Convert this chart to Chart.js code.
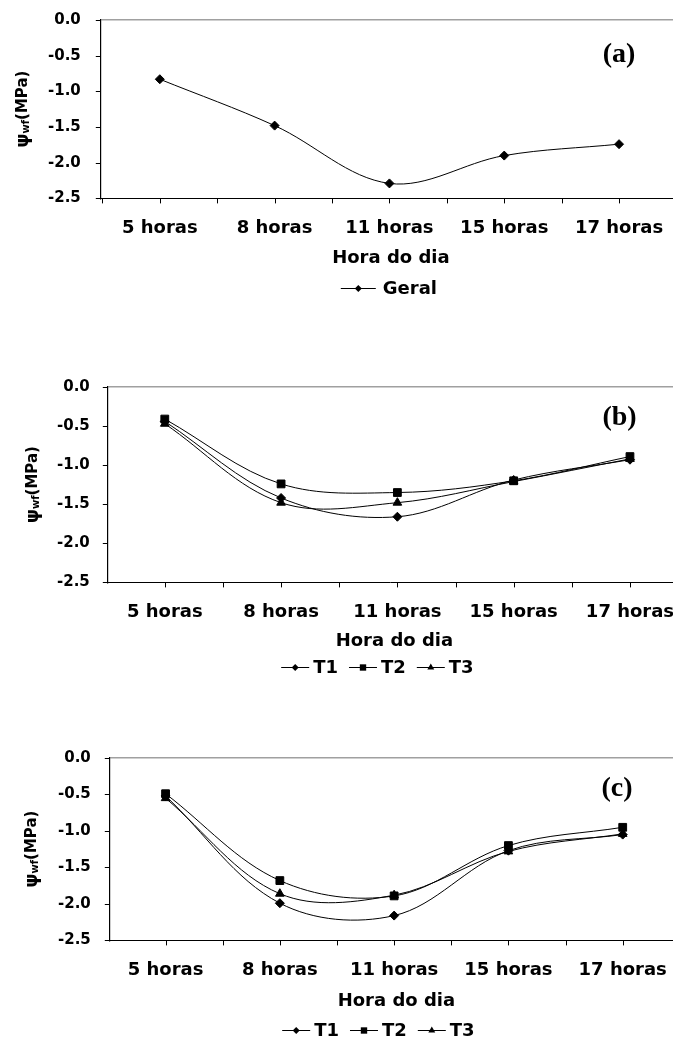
<!DOCTYPE html>
<html>
<head>
<meta charset="utf-8">
<script src="https://cdn.jsdelivr.net/npm/chart.js@4.4.0/dist/chart.umd.min.js"></script>
<style>
  html, body { margin: 0; padding: 0; background: #fff; overflow: hidden; }
  .panel { position: absolute; left: 0; width: 673px; }
</style>
</head>
<body>
<div class="panel" style="top:0px"><canvas id="chartA" width="673" height="309"></canvas></div>
<div class="panel" style="top:367px"><canvas id="chartB" width="673" height="316"></canvas></div>
<div class="panel" style="top:738px"><canvas id="chartC" width="673" height="303"></canvas></div>
<script>
// categories and ticks
const hours = ["5 horas", "8 horas", "11 horas", "15 horas", "17 horas"];
const xTickPos = [-0.5, 0, 0.5, 1, 1.5, 2, 2.5, 3, 3.5, 4];
const yTicks = [0, -0.5, -1, -1.5, -2, -2.5];

// (a) overall
const geral = [-0.83, -1.48, -2.29, -1.90, -1.74];

// (b)
const t1B = [-0.44, -1.42, -1.66, -1.19, -0.93];
const t2B = [-0.41, -1.24, -1.35, -1.20, -0.89];
const t3B = [-0.47, -1.48, -1.48, -1.21, -0.92];

// (c)
const t1C = [-0.52, -1.99, -2.16, -1.27, -1.05];
const t2C = [-0.49, -1.68, -1.89, -1.20, -0.95];
const t3C = [-0.55, -1.86, -1.88, -1.28, -1.04];

const sansBold = (size) => ({ family: '"DejaVu Sans"', size: size, weight: "bold" });
const TICK = 5; // visible tick mark length

function drawMarker(ctx, style, x, y, r) {
  ctx.beginPath();
  if (style === "rect") {
    const s = r * Math.SQRT1_2;
    ctx.rect(x - s, y - s, 2 * s, 2 * s);
  } else if (style === "triangle") {
    ctx.moveTo(x, y - r);
    ctx.lineTo(x + r * 0.866, y + r * 0.5);
    ctx.lineTo(x - r * 0.866, y + r * 0.5);
    ctx.closePath();
  } else {
    ctx.moveTo(x - r, y);
    ctx.lineTo(x, y - r);
    ctx.lineTo(x + r, y);
    ctx.lineTo(x, y + r);
    ctx.closePath();
  }
  ctx.fill();
}

// short tick marks, axis titles, panel tag and legend
const panelExtras = {
  id: "panelExtras",
  afterDraw(chart, args, opts) {
    const ctx = chart.ctx;
    const a = chart.chartArea;
    const cx = (a.left + a.right) / 2;
    const xs = chart.scales.x;
    const ys = chart.scales.y;

    // tick marks (the scales keep longer invisible ones as label spacing)
    ctx.save();
    ctx.strokeStyle = "#000";
    ctx.lineWidth = 1;
    ctx.beginPath();
    xs.ticks.forEach((t) => {
      if (t.value > 4.2) return;
      const px = Math.round(xs.getPixelForValue(t.value)) + 0.5;
      ctx.moveTo(px, a.bottom);
      ctx.lineTo(px, a.bottom + TICK);
    });
    ys.ticks.forEach((t) => {
      const py = Math.round(ys.getPixelForValue(t.value)) + 0.5;
      ctx.moveTo(a.left - TICK, py);
      ctx.lineTo(a.left, py);
    });
    ctx.stroke();
    ctx.restore();

    // y axis title (psi with subscript)
    const parts = [
      { t: "\u03C8", f: 'bold 18px "DejaVu Sans"', dy: 0 },
      { t: "wf", f: 'bold 10px "DejaVu Sans"', dy: 3 },
      { t: "(MPa)", f: 'bold 15px "DejaVu Sans"', dy: 0 }
    ];
    ctx.save();
    ctx.translate(opts.yTitleX, (a.top + a.bottom) / 2);
    ctx.rotate(-Math.PI / 2);
    ctx.textBaseline = "middle";
    ctx.fillStyle = "#000";
    let total = 0;
    parts.forEach((p) => { ctx.font = p.f; p.w = ctx.measureText(p.t).width; total += p.w; });
    let px = -total / 2;
    parts.forEach((p) => { ctx.font = p.f; ctx.fillText(p.t, px, p.dy); px += p.w; });
    ctx.restore();

    // x axis title
    ctx.save();
    ctx.font = 'bold 18px "DejaVu Sans"';
    ctx.textAlign = "center";
    ctx.textBaseline = "middle";
    ctx.fillStyle = "#000";
    ctx.fillText("Hora do dia", cx + opts.titleDx, a.bottom + opts.titleDy);
    ctx.restore();

    // panel tag
    ctx.save();
    ctx.font = 'bold 28px "Liberation Serif"';
    ctx.textAlign = "center";
    ctx.textBaseline = "middle";
    ctx.fillStyle = "#000";
    ctx.fillText(opts.tag, xs.getPixelForValue(opts.tagX), ys.getPixelForValue(opts.tagY));
    ctx.restore();

    // legend: line with marker, then label
    ctx.save();
    ctx.font = 'bold 18px "DejaVu Sans"';
    ctx.textBaseline = "middle";
    ctx.fillStyle = "#000";
    ctx.strokeStyle = "#000";
    ctx.lineWidth = 1;
    const items = chart.data.datasets.map((ds) => ({
      text: ds.label, style: ds.pointStyle, w: ctx.measureText(ds.label).width
    }));
    let width = 0;
    items.forEach((it, i) => { width += opts.lineW + opts.textGap + it.w + (i > 0 ? opts.itemGap : 0); });
    let x = cx + opts.legendDx - width / 2;
    const y = Math.round(a.bottom + opts.legendDy) + 0.5;
    items.forEach((it) => {
      ctx.beginPath();
      ctx.moveTo(x, y);
      ctx.lineTo(x + opts.lineW, y);
      ctx.stroke();
      drawMarker(ctx, it.style, x + opts.lineW / 2, y, it.style === "rect" ? 4.5 : (it.style === "triangle" ? 4 : 3.5));
      ctx.fillText(it.text, x + opts.lineW + opts.textGap, y + 1);
      x += opts.lineW + opts.textGap + it.w + opts.itemGap;
    });
    ctx.restore();
  }
};

function makeChart(id, series, cfg) {
  // last tick sits on the right edge with no label, so no extra right padding is reserved
  const ticksX = xTickPos.filter((v) => v >= cfg.xMin && v <= cfg.xMax).concat([cfg.xMax]);
  return new Chart(document.getElementById(id), {
    type: "line",
    data: {
      datasets: series.map((s) => ({
        label: s.label,
        data: s.values.map((v, i) => ({ x: i, y: v })),
        borderColor: "#000",
        backgroundColor: "#000",
        borderWidth: 1,
        pointStyle: s.style,
        pointRadius: s.radius,
        pointBorderWidth: 1,
        pointBackgroundColor: "#000",
        tension: 0.35
      }))
    },
    options: {
      responsive: false,
      animation: false,
      events: [],
      layout: { autoPadding: false, padding: { top: 20, left: cfg.padLeft, right: 0, bottom: cfg.padBottom } },
      plugins: {
        legend: { display: false },
        tooltip: { enabled: false },
        panelExtras: cfg
      },
      scales: {
        x: {
          type: "linear",
          min: cfg.xMin,
          max: cfg.xMax,
          afterBuildTicks: (sc) => {
            sc.ticks = ticksX.map((v) => ({ value: v }));
          },
          ticks: {
            autoSkip: false,
            maxRotation: 0,
            padding: 0,
            color: "#000",
            font: sansBold(18),
            callback: (v) => (Number.isInteger(v) ? hours[v] : "")
          },
          grid: { drawOnChartArea: false, tickLength: 19, color: "rgba(0,0,0,0)", tickColor: "rgba(0,0,0,0)" },
          border: { color: "#000", width: 1 }
        },
        y: {
          min: -2.5,
          max: 0,
          afterBuildTicks: (sc) => {
            sc.ticks = yTicks.map((v) => ({ value: v }));
          },
          ticks: {
            padding: 0,
            color: "#000",
            font: sansBold(15),
            callback: (v) => v.toFixed(1)
          },
          grid: {
            color: (c) => (c.tick && c.tick.value === 0 ? "#a0a0a0" : "rgba(0,0,0,0)"),
            lineWidth: (c) => (c.tick && c.tick.value === 0 ? 1.5 : 1),
            tickLength: cfg.yGap,
            tickColor: "rgba(0,0,0,0)"
          },
          border: { color: "#000", width: 1.2 }
        }
      }
    },
    plugins: [panelExtras]
  });
}

makeChart("chartA", [
  { label: "Geral", values: geral, style: "rectRot", radius: 4.5 }
], {
  padLeft: 48, yGap: 20, padBottom: 70, xMin: -0.514, xMax: 4.47,
  yTitleX: 23, tag: "(a)", tagX: 4.0, tagY: -0.49,
  titleDx: 4, titleDy: 60,
  legendDy: 90, legendDx: 2, lineW: 35, textGap: 7, itemGap: 11
});

makeChart("chartB", [
  { label: "T1", values: t1B, style: "rectRot", radius: 4.5 },
  { label: "T2", values: t2B, style: "rect", radius: 5.5 },
  { label: "T3", values: t3B, style: "triangle", radius: 5 }
], {
  padLeft: 57, yGap: 18, padBottom: 60, xMin: -0.49, xMax: 4.37,
  yTitleX: 33, tag: "(b)", tagX: 3.91, tagY: -0.39,
  titleDx: 4, titleDy: 59,
  legendDy: 85, legendDx: -13, lineW: 28, textGap: 4, itemGap: 11
});

makeChart("chartC", [
  { label: "T1", values: t1C, style: "rectRot", radius: 4.5 },
  { label: "T2", values: t2C, style: "rect", radius: 5.5 },
  { label: "T3", values: t3C, style: "triangle", radius: 5 }
], {
  padLeft: 58, yGap: 19, padBottom: 60, xMin: -0.488, xMax: 4.44,
  yTitleX: 32, tag: "(c)", tagX: 3.95, tagY: -0.415,
  titleDx: 5, titleDy: 61,
  legendDy: 90, legendDx: -13, lineW: 28, textGap: 4, itemGap: 11
});
</script>
</body>
</html>
